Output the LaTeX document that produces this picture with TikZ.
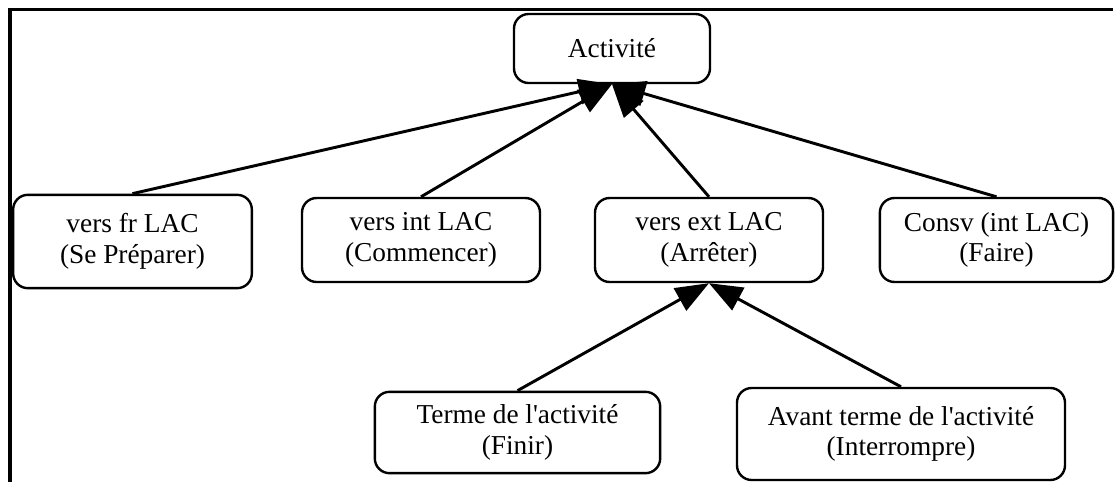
\documentclass[tikz,border=0pt]{standalone}
\usepackage{fontspec}
\setmainfont{Liberation Serif}
\usetikzlibrary{arrows.meta}

\begin{document}
\begin{tikzpicture}[x=0.75pt, y=-0.75pt,
    boite/.style={draw, line width=1.8pt, rounded corners=11pt, align=center, inner sep=0pt, font=\fontsize{20.5}{23}\selectfont},
    fleche/.style={line width=2.2pt, -{Triangle[length=25pt, width=19pt]}}]
                \useasboundingbox (0,0) rectangle (1115,482);
                \draw[line width=2.4pt] (10,482) -- (10,9.5) -- (1113,9.5);
                
                \node[boite, minimum width=147pt, minimum height=51.75pt] (act) at (612,48.5) {Activité};
                
                % Niveau 1
                \node[boite, minimum width=179pt, minimum height=70pt] (fr) at (132.5,241.5) {vers fr LAC\\(Se Préparer)};
                \node[boite, minimum width=178.5pt, minimum height=63pt] (int) at (421,240) {vers int LAC\\(Commencer)};
                \node[boite, minimum width=171pt, minimum height=63pt] (ext) at (709,240) {vers ext LAC\\(Arrêter)};
                \node[boite, minimum width=175pt, minimum height=63pt] (consv) at (996.5,240) {Consv (int LAC)\\(Faire)};
                
                % Niveau 2
                \node[boite, minimum width=214pt, minimum height=61pt] (terme) at (517.5,432.5) {Terme de l\textquotesingle activité\\(Finir)};
                \node[boite, minimum width=246pt, minimum height=69pt] (avant) at (901,434) {Avant terme de l\textquotesingle activité\\(Interrompre)};
                
                \foreach \n in {fr, int, ext, consv} { \draw[fleche] (\n.north) -- (act.south); }
                \foreach \n in {terme, avant} { \draw[fleche] (\n.north) -- (ext.south); }
            \end{tikzpicture}
\end{document}
